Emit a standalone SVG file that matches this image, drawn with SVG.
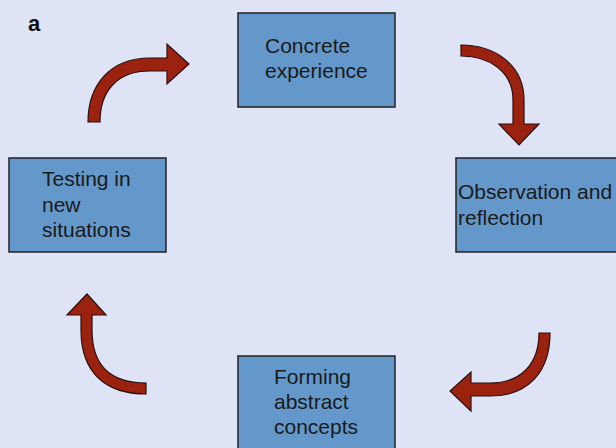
<svg xmlns="http://www.w3.org/2000/svg" width="616" height="448" viewBox="0 0 616 448">
<style>
.box{fill:#6498ca;stroke:#222;stroke-width:1.5}
.t{font-family:"Liberation Sans",Arial,sans-serif;font-size:21px;fill:#1a1a1a}
.arr{fill:#9c2210;stroke:#2a1010;stroke-width:1.2;stroke-linejoin:miter}
</style>
<rect width="616" height="448" fill="#dee3f6"/>
<text x="28" y="31" font-family="Liberation Sans,Arial,sans-serif" font-size="22" font-weight="bold" fill="#111">a</text>
<g id="concrete">
<rect class="box" x="238" y="13" width="157" height="94"/>
<text class="t" x="265" y="53">Concrete</text>
<text class="t" x="265" y="78">experience</text>
</g>
<g id="observation">
<rect class="box" x="456" y="158" width="170" height="94"/>
<text class="t" x="458" y="199">Observation and</text>
<text class="t" x="458" y="225">reflection</text>
</g>
<g id="forming">
<rect class="box" x="238" y="356" width="157" height="100"/>
<text class="t" x="274" y="384">Forming</text>
<text class="t" x="274" y="409">abstract</text>
<text class="t" x="274" y="434">concepts</text>
</g>
<g id="testing">
<rect class="box" x="9" y="158" width="157" height="94"/>
<text class="t" x="42" y="186">Testing in</text>
<text class="t" x="42" y="211.5">new</text>
<text class="t" x="42" y="237">situations</text>
</g>
<g id="connectors">
<path class="arr" d="M88,122 C88,85 110,58 150,58 L167,58 L167,44 L189,64 L167,84 L167,71 L150,71 C118,71 100,90 100,122 Z"/>
<path class="arr" d="M461,45 C495,45 524,65 524,100 L524,124 L539,124 L519,145 L499,124 L513,124 L513,100 C513,72 490,56 461,56 Z"/>
<path class="arr" d="M550,333 C550,370 530,396 490,396 L471,396 L471,411 L450,391 L471,372 L471,383 L490,383 C520,383 539,365 539,333 Z"/>
<path class="arr" d="M146,383 C110,383 92,365 92,330 L92,315 L106,315 L87,294 L67,315 L81,315 L81,330 C81,372 105,394 146,394 Z"/>
</g>
</svg>
